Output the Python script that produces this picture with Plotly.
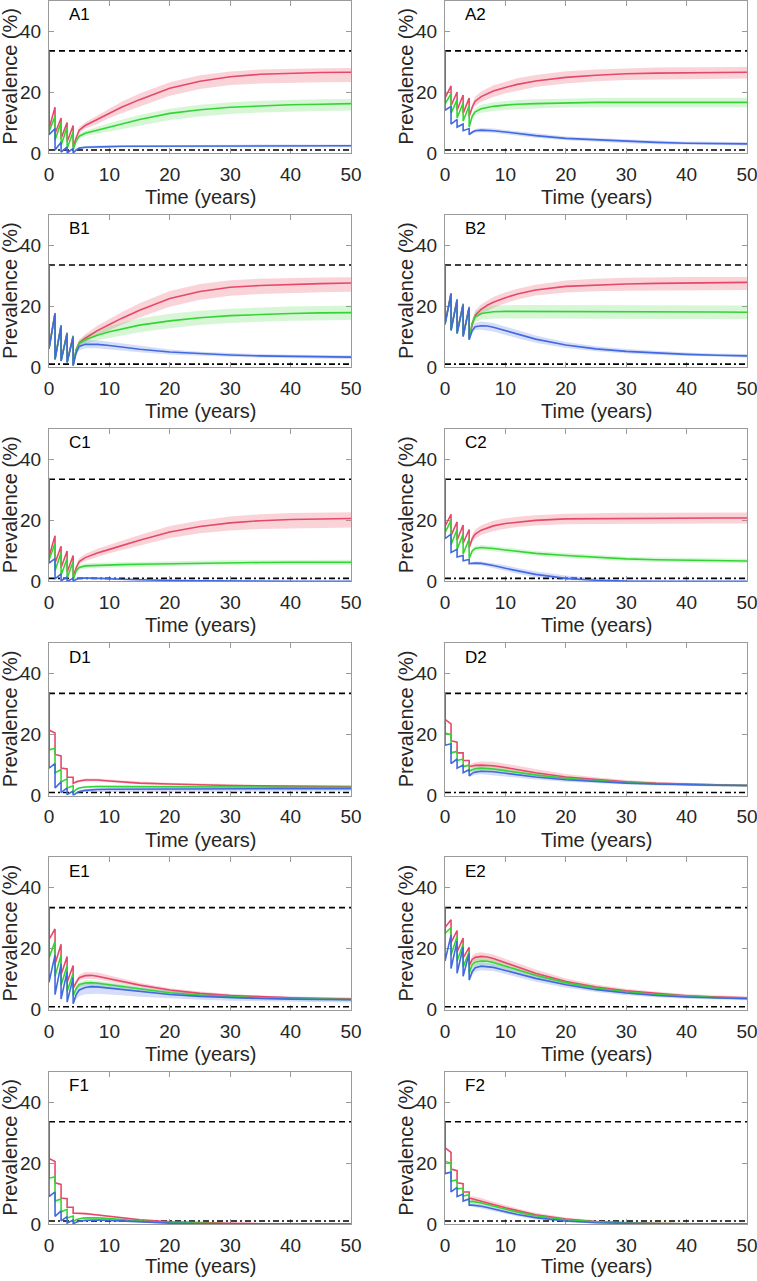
import plotly.graph_objects as go

# ---------------- data ----------------
# time grid for the median curves: repeated years = value just before / just after an MDA round
T = [0, 0, 1, 1, 2, 2, 3, 3, 4, 4, 4.5, 5, 6, 7, 8, 10, 12, 15, 20, 25, 30, 35, 40, 45, 50]
# time grid for the uncertainty bands (after the last MDA round)
TB = [4, 4.5, 5, 6, 8, 10, 12, 15, 20, 25, 30, 35, 40, 45, 50]

BASELINE = 33.5      # pre-intervention prevalence (dashed)
ELIM_THRESHOLD = 1.0  # elimination threshold (dash-dot)

PANELS = ["A1", "A2", "B1", "B2", "C1", "C2", "D1", "D2", "E1", "E2", "F1", "F2"]
X_TICKS = [0, 10, 20, 30, 40, 50]
Y_TICKS = [0, 20, 40]

A1_red = [33.5, 8, 15, 6.4, 11.5, 4.8, 10, 3.7, 9, 2, 5, 7.5, 9, 10, 11, 13, 15, 17.5, 21.2, 23.5, 25, 25.8, 26.2, 26.4, 26.5]
A1_red_lo = [2, 4.5, 6.5, 8, 9.5, 11.5, 13, 15.3, 18.8, 21, 22.3, 22.8, 23.1, 23.2, 23.3]
A1_red_hi = [2.2, 5.5, 8.5, 10, 12.3, 14.5, 16.8, 19.5, 23.2, 25.5, 26.7, 27.4, 27.7, 27.8, 27.9]
A1_green = [33.5, 7, 12, 4.3, 10, 2.5, 8.5, 1.5, 7, 1, 4, 5.5, 6.5, 7, 7.5, 8.5, 9.5, 11, 13, 14.2, 15, 15.5, 15.8, 16, 16.2]
A1_green_lo = [1, 3.5, 4.8, 5.6, 6.3, 7, 7.8, 9, 10.8, 12, 12.8, 13.3, 13.6, 13.8, 13.9]
A1_green_hi = [1.1, 4.5, 6.2, 7.4, 8.6, 9.8, 10.9, 12.5, 14.5, 15.8, 16.6, 17.1, 17.4, 17.6, 17.7]
A1_blue = [33.5, 6, 8, 1, 3.5, 0.3, 2, 0, 1.5, 0, 1, 1.6, 1.9, 2, 2.1, 2.1, 2.2, 2.2, 2.3, 2.3, 2.3, 2.4, 2.4, 2.4, 2.4]
A1_blue_lo = [0, 0.7, 1.2, 1.5, 1.7, 1.7, 1.8, 1.8, 1.9, 1.9, 1.9, 2, 2, 2, 2]
A1_blue_hi = [0.1, 1.3, 2, 2.3, 2.5, 2.5, 2.6, 2.6, 2.7, 2.7, 2.7, 2.8, 2.8, 2.8, 2.8]

A2_red = [33.5, 18, 22, 15.5, 20, 14, 19, 13, 18, 12, 15, 17, 18.5, 19.5, 20.3, 21.5, 22.5, 23.6, 24.8, 25.5, 26, 26.2, 26.3, 26.4, 26.5]
A2_red_lo = [11.8, 14, 15.5, 16.8, 18.4, 19.6, 20.5, 21.6, 22.8, 23.5, 23.9, 24.1, 24.2, 24.3, 24.4]
A2_red_hi = [12.2, 16, 18.5, 20.2, 22.2, 23.4, 24.5, 25.6, 26.8, 27.4, 27.8, 28, 28.1, 28.2, 28.2]
A2_green = [33.5, 16, 19.5, 13, 17.5, 11.5, 16.5, 10.5, 15.5, 8.5, 12, 13.5, 14.5, 15, 15.3, 15.7, 16, 16.2, 16.5, 16.6, 16.6, 16.6, 16.6, 16.6, 16.6]
A2_green_lo = [8.3, 11, 12.4, 13.2, 13.8, 14.1, 14.4, 14.6, 14.9, 15, 15, 15, 15, 15, 15]
A2_green_hi = [8.7, 13, 14.6, 15.8, 16.6, 17.1, 17.4, 17.6, 17.9, 18, 18.1, 18.1, 18.1, 18.1, 18.1]
A2_blue = [33.5, 14, 15.3, 9.5, 11, 8.5, 9.5, 7.3, 8, 6, 6.8, 7.3, 7.5, 7.5, 7.3, 6.9, 6.4, 5.7, 4.8, 4.3, 3.8, 3.5, 3.2, 3.1, 3]
A2_blue_lo = [5.8, 6.3, 6.7, 6.8, 6.6, 6.2, 5.7, 5.0, 4.2, 3.7, 3.2, 2.9, 2.7, 2.6, 2.5]
A2_blue_hi = [6.2, 7.3, 7.9, 8.2, 8.0, 7.6, 7.1, 6.4, 5.4, 4.9, 4.4, 4.1, 3.8, 3.7, 3.6]

B1_red = [33.5, 6.2, 17.8, 2.7, 13.8, 2.2, 11.3, 1.7, 10.3, 0.7, 5.8, 8, 9.5, 10.8, 12, 14, 16, 18.7, 22.5, 24.8, 26.2, 26.8, 27.2, 27.4, 27.6]
B1_red_lo = [0.7, 5, 7, 8.3, 10.4, 12.2, 13.9, 16.3, 19.8, 22.1, 23.4, 24, 24.4, 24.6, 24.7]
B1_red_hi = [0.8, 6.5, 9, 10.8, 13.6, 15.8, 18, 21, 25, 27.3, 28.5, 29, 29.3, 29.4, 29.5]
B1_green = [33.5, 6.1, 17.7, 2.6, 13.7, 2.1, 11.2, 1.6, 10.2, 0.6, 5.6, 7.8, 9, 9.8, 10.5, 11.6, 12.5, 13.8, 15.2, 16.2, 16.9, 17.3, 17.6, 17.8, 17.9]
B1_green_lo = [0.6, 4.8, 6.6, 7.6, 8.8, 9.7, 10.4, 11.5, 12.8, 13.8, 14.5, 14.9, 15.2, 15.4, 15.5]
B1_green_hi = [0.7, 6.4, 9, 10.4, 12, 13.4, 14.5, 16, 17.5, 18.5, 19.2, 19.6, 19.9, 20.1, 20.2]
B1_blue = [33.5, 6, 17.5, 2.5, 13.5, 2, 11, 1.5, 10, 0.5, 4.8, 6.8, 7.5, 7.6, 7.5, 7.1, 6.6, 5.9, 5, 4.4, 4, 3.7, 3.5, 3.4, 3.3]
B1_blue_lo = [0.4, 3.8, 5.5, 6.2, 6.2, 5.9, 5.5, 4.9, 4.2, 3.7, 3.4, 3.1, 2.9, 2.8, 2.7]
B1_blue_hi = [0.6, 5.8, 8, 8.8, 8.8, 8.3, 7.7, 6.9, 5.8, 5.1, 4.6, 4.3, 4.1, 4, 3.9]

B2_red = [33.5, 14.2, 24.3, 12.3, 22.3, 11.3, 20.8, 10.4, 19.8, 9.4, 14, 17, 19, 20.3, 21.3, 22.8, 24, 25.3, 26.5, 27, 27.3, 27.5, 27.6, 27.7, 27.8]
B2_red_lo = [9.3, 12.8, 15.5, 17.4, 19.5, 21, 22.2, 23.5, 24.5, 24.9, 25.1, 25.2, 25.3, 25.3, 25.3]
B2_red_hi = [9.5, 15.2, 18.6, 20.6, 23, 24.6, 25.7, 27, 28.4, 29, 29.3, 29.5, 29.6, 29.6, 29.6]
B2_green = [33.5, 14.1, 24.1, 12.1, 22.1, 11.1, 20.6, 10.2, 19.6, 9.2, 14.5, 16.5, 17.6, 18, 18.2, 18.3, 18.3, 18.3, 18.3, 18.2, 18.2, 18.1, 18.1, 18.1, 18]
B2_green_lo = [9.1, 13, 14.8, 15.6, 16, 16.1, 16.1, 16.1, 16, 15.9, 15.8, 15.8, 15.7, 15.7, 15.7]
B2_green_hi = [9.3, 15.8, 18.2, 19.5, 20.2, 20.4, 20.4, 20.4, 20.4, 20.3, 20.3, 20.2, 20.2, 20.2, 20.2]
B2_blue = [33.5, 14, 24, 12, 22, 11, 20.5, 10, 19.5, 9, 12, 13.3, 13.6, 13.5, 13.1, 12, 10.8, 9.2, 7.3, 6, 5.2, 4.6, 4.2, 3.9, 3.7]
B2_blue_lo = [8.8, 11, 12.2, 12.3, 11.7, 10.6, 9.5, 8.0, 6.3, 5.2, 4.5, 4.0, 3.6, 3.4, 3.2]
B2_blue_hi = [9.2, 13, 14.5, 15, 14.5, 13.4, 12.1, 10.4, 8.3, 6.9, 6, 5.3, 4.8, 4.5, 4.3]

C1_red = [33.5, 8, 15, 6, 11.5, 4.5, 10, 3, 8.5, 1.5, 4.5, 6.5, 7.8, 8.6, 9.3, 10.5, 11.8, 13.5, 16.2, 18, 19.2, 19.9, 20.3, 20.5, 20.6]
C1_red_lo = [1.4, 3.8, 5.6, 6.7, 8, 9.2, 10.3, 11.8, 14.2, 15.8, 16.7, 17.2, 17.5, 17.6, 17.7]
C1_red_hi = [1.6, 5.3, 7.6, 9, 10.7, 12, 13.3, 15.2, 18.2, 20, 21.3, 22, 22.4, 22.6, 22.7]
C1_green = [33.5, 7, 12.5, 3.5, 9.5, 2, 7.5, 1, 6.5, 0.5, 3.5, 4.6, 5.1, 5.2, 5.3, 5.4, 5.5, 5.6, 5.8, 6, 6.1, 6.2, 6.3, 6.3, 6.3]
C1_green_lo = [0.4, 2.8, 3.8, 4.3, 4.5, 4.6, 4.7, 4.8, 5, 5.2, 5.3, 5.4, 5.5, 5.5, 5.5]
C1_green_hi = [0.6, 4.2, 5.4, 5.9, 6.1, 6.2, 6.3, 6.4, 6.6, 6.8, 6.9, 7, 7.1, 7.1, 7.1]
C1_blue = [33.5, 6, 7.5, 0.8, 2.5, 0.2, 1.5, 0, 1, 0, 0.7, 1, 1.1, 1.1, 1, 0.9, 0.7, 0.5, 0.3, 0.2, 0.1, 0.1, 0.05, 0.05, 0.05]
C1_blue_lo = [0, 0.5, 0.8, 0.8, 0.7, 0.6, 0.4, 0.2, 0.1, 0, 0, 0, 0, 0, 0]
C1_blue_hi = [0, 0.9, 1.3, 1.4, 1.3, 1.2, 1, 0.8, 0.6, 0.4, 0.3, 0.2, 0.2, 0.1, 0.1]

C2_red = [33.5, 18, 22, 15, 19.5, 13.5, 18.5, 12.5, 17, 11, 14, 15.5, 16.8, 17.6, 18.2, 19, 19.5, 20, 20.5, 20.6, 20.7, 20.7, 20.8, 20.8, 20.8]
C2_red_lo = [10.8, 12.8, 14, 15.2, 16.5, 17.3, 17.8, 18.3, 18.7, 18.8, 18.9, 18.9, 19, 19, 19]
C2_red_hi = [11.2, 15.3, 17, 18.4, 19.9, 20.7, 21.2, 21.7, 22.2, 22.4, 22.5, 22.5, 22.6, 22.6, 22.6]
C2_green = [33.5, 16, 20, 12, 17, 10.5, 15.5, 9, 14, 7.5, 10, 10.8, 11.1, 11, 10.8, 10.3, 9.8, 9.2, 8.5, 7.9, 7.4, 7.1, 6.9, 6.8, 6.7]
C2_green_lo = [7.3, 9.2, 10, 10.3, 10, 9.5, 9, 8.4, 7.7, 7.1, 6.7, 6.4, 6.2, 6.1, 6]
C2_green_hi = [7.7, 10.8, 11.6, 11.9, 11.6, 11.1, 10.6, 10, 9.3, 8.7, 8.1, 7.8, 7.6, 7.5, 7.4]
C2_blue = [33.5, 14, 15.5, 9.5, 10.5, 8, 8.5, 6.8, 7.2, 5.8, 5.9, 6, 5.9, 5.6, 5.2, 4.3, 3.4, 2.3, 1, 0.4, 0.1, 0.05, 0, 0, 0]
C2_blue_lo = [5.6, 5.5, 5.5, 5.3, 4.5, 3.4, 2.5, 1.4, 0.4, 0.1, 0, 0, 0, 0, 0]
C2_blue_hi = [6, 6.3, 6.5, 6.5, 6.0, 5.3, 4.4, 3.3, 1.9, 1, 0.5, 0.2, 0.1, 0, 0]

D1_red = [33.5, 21.5, 20.5, 13.5, 13, 9, 8.7, 6, 6, 4, 4.5, 4.8, 5.1, 5.2, 5.1, 4.8, 4.5, 4.1, 3.8, 3.5, 3.3, 3.2, 3.1, 3.0, 3.0]
D1_red_lo = [3.8, 4.2, 4.4, 4.6, 4.6, 4.3, 4.1, 3.7, 3.4, 3.2, 3, 2.9, 2.8, 2.8, 2.7]
D1_red_hi = [4.2, 4.8, 5.2, 5.6, 5.6, 5.3, 5, 4.6, 4.2, 3.9, 3.6, 3.5, 3.4, 3.3, 3.3]
D1_green = [33.5, 15, 15.5, 7.5, 8.5, 4.5, 5.5, 2.5, 3.2, 1, 2, 2.5, 2.8, 3, 3, 3, 3, 3, 2.9, 2.9, 2.8, 2.8, 2.7, 2.7, 2.7]
D1_green_lo = [0.9, 1.7, 2.2, 2.5, 2.6, 2.6, 2.6, 2.6, 2.5, 2.5, 2.4, 2.4, 2.4, 2.4, 2.4]
D1_green_hi = [1.1, 2.3, 2.8, 3.1, 3.4, 3.4, 3.4, 3.4, 3.3, 3.3, 3.2, 3.2, 3.1, 3.1, 3.1]
D1_blue = [33.5, 9, 10.5, 2.5, 4.5, 1, 2.5, 0.3, 1.5, 0, 0.8, 1.3, 1.7, 1.9, 2, 2.1, 2.1, 2.2, 2.2, 2.2, 2.3, 2.3, 2.3, 2.3, 2.3]
D1_blue_lo = [0, 0.5, 0.9, 1.2, 1.4, 1.4, 1.4, 1.4, 1.4, 1.4, 1.4, 1.4, 1.4, 1.4, 1.4]
D1_blue_hi = [0.1, 1.1, 1.7, 2.2, 2.6, 2.8, 2.8, 2.9, 2.9, 2.9, 2.9, 2.9, 2.9, 2.9, 2.9]

D2_red = [33.5, 25, 23.5, 18, 17.5, 14, 14, 11.5, 11.5, 9.5, 9.7, 9.9, 10, 10, 9.8, 9.2, 8.5, 7.5, 6.1, 5.2, 4.5, 4, 3.7, 3.5, 3.3]
D2_red_lo = [9, 8.9, 8.9, 8.9, 8.6, 8.0, 7.4, 6.5, 5.3, 4.6, 4.0, 3.6, 3.3, 3.1, 3]
D2_red_hi = [10, 10.6, 10.9, 11.2, 11.1, 10.5, 9.8, 8.7, 7.1, 6, 5.1, 4.5, 4.1, 3.9, 3.7]
D2_green = [33.5, 20.5, 20, 14, 14.5, 11.5, 12, 9.5, 10, 8, 8.5, 8.8, 9, 8.9, 8.7, 8.2, 7.6, 6.8, 5.7, 4.9, 4.3, 3.9, 3.6, 3.4, 3.3]
D2_green_lo = [7.6, 7.8, 8, 8.1, 7.9, 7.4, 6.9, 6.1, 5.1, 4.4, 3.9, 3.5, 3.3, 3.1, 3]
D2_green_hi = [8.4, 9.2, 9.6, 9.9, 9.7, 9.2, 8.5, 7.6, 6.4, 5.5, 4.8, 4.3, 4, 3.8, 3.6]
D2_blue = [33.5, 16.5, 17, 10.5, 12, 9, 10, 7.5, 8.5, 6.5, 7.3, 7.7, 8, 8, 7.8, 7.3, 6.8, 6.1, 5.2, 4.6, 4.1, 3.8, 3.5, 3.4, 3.3]
D2_blue_lo = [6.1, 6.5, 6.8, 7.0, 6.8, 6.4, 5.9, 5.3, 4.5, 4, 3.6, 3.3, 3.1, 3, 2.9]
D2_blue_hi = [6.9, 8.1, 8.6, 9.0, 8.8, 8.2, 7.7, 6.9, 5.9, 5.2, 4.6, 4.3, 4, 3.8, 3.7]

E1_red = [33.5, 23, 26.5, 15, 21.5, 11.5, 17.5, 9, 14.5, 7, 9, 10.5, 11.2, 11.3, 11, 10.2, 9.3, 8.1, 6.5, 5.4, 4.7, 4.2, 3.9, 3.7, 3.5]
E1_red_lo = [6.6, 8.3, 9.6, 10.2, 10, 9.3, 8.5, 7.4, 5.9, 4.9, 4.3, 3.8, 3.6, 3.4, 3.2]
E1_red_hi = [7.4, 9.8, 11.5, 12.4, 12.2, 11.2, 10.2, 8.9, 7.1, 6, 5.2, 4.6, 4.3, 4.1, 3.9]
E1_green = [33.5, 17, 22.5, 11, 18, 8, 14.5, 6, 12, 4.5, 7, 8.3, 8.8, 8.9, 8.7, 8.2, 7.6, 6.8, 5.6, 4.8, 4.3, 3.9, 3.7, 3.5, 3.4]
E1_green_lo = [4.1, 6.2, 7.4, 7.9, 7.8, 7.3, 6.7, 6, 4.9, 4.2, 3.7, 3.4, 3.2, 3.1, 3]
E1_green_hi = [4.9, 7.8, 9.2, 9.8, 9.6, 9.1, 8.5, 7.6, 6.3, 5.4, 4.9, 4.4, 4.2, 4, 3.8]
E1_blue = [33.5, 9, 18, 5, 15, 3.5, 12.5, 2.5, 10.5, 2, 5, 6.5, 7.3, 7.6, 7.5, 7.1, 6.6, 5.9, 5, 4.4, 4, 3.7, 3.5, 3.4, 3.3]
E1_blue_lo = [1.6, 3.5, 4.5, 5.1, 5.3, 5.1, 4.8, 4.3, 3.7, 3.3, 3, 2.8, 2.6, 2.5, 2.4]
E1_blue_hi = [2.4, 6.3, 8.1, 9, 9.1, 8.7, 8.1, 7.3, 6.2, 5.5, 5, 4.6, 4.4, 4.2, 4.1]

E2_red = [33.5, 27, 29.5, 22, 26, 19, 23.5, 17, 20.5, 14.5, 16.5, 17.2, 17.5, 17.3, 16.8, 15.4, 14, 12, 9.3, 7.5, 6.2, 5.3, 4.6, 4.2, 3.9]
E2_red_lo = [13.8, 15.3, 15.9, 16.2, 15.6, 14.2, 12.8, 10.9, 8.4, 6.7, 5.5, 4.7, 4.1, 3.7, 3.5]
E2_red_hi = [15.2, 17.7, 18.5, 18.9, 18.1, 16.7, 15.3, 13.2, 10.3, 8.3, 6.9, 5.9, 5.2, 4.7, 4.4]
E2_green = [33.5, 25, 27, 18, 24, 16, 21.5, 14, 19, 12, 14.8, 15.6, 16, 15.9, 15.5, 14.4, 13.1, 11.3, 8.9, 7.1, 5.9, 5, 4.4, 4, 3.8]
E2_green_lo = [11.3, 13.7, 14.4, 14.8, 14.4, 13.3, 12.1, 10.4, 8.1, 6.4, 5.3, 4.5, 3.9, 3.6, 3.4]
E2_green_hi = [12.7, 15.9, 16.8, 17.2, 16.6, 15.5, 14.1, 12.2, 9.7, 7.8, 6.5, 5.5, 4.9, 4.4, 4.2]
E2_blue = [33.5, 16, 24.5, 13.5, 22.5, 12, 20.5, 11, 18.5, 9.8, 12.5, 13.8, 14.3, 14.2, 13.9, 12.9, 11.8, 10.3, 8.2, 6.6, 5.5, 4.7, 4.2, 3.8, 3.6]
E2_blue_lo = [9.1, 11.3, 12.5, 13, 12.7, 11.7, 10.6, 9.2, 7.2, 5.8, 4.8, 4.1, 3.6, 3.3, 3.1]
E2_blue_hi = [10.5, 13.7, 15.1, 15.6, 15.1, 14.1, 13, 11.4, 9.2, 7.4, 6.2, 5.3, 4.8, 4.4, 4.1]

F1_red = [33.5, 21.5, 20.5, 13.5, 13, 8.5, 8.3, 5.5, 5.5, 3.5, 3.5, 3.5, 3.4, 3.2, 3, 2.6, 2.1, 1.4, 0.7, 0.4, 0.2, 0.1, 0.05, 0, 0]
F1_red_lo = [3.3, 3.2, 3.2, 3.1, 2.7, 2.3, 1.8, 1.1, 0.5, 0.2, 0.1, 0, 0, 0, 0]
F1_red_hi = [3.7, 3.8, 3.8, 3.7, 3.3, 2.9, 2.4, 1.7, 1, 0.6, 0.3, 0.2, 0.1, 0.05, 0]
F1_green = [33.5, 15, 15.5, 7.5, 8.2, 4, 4.8, 2, 2.6, 0.8, 1.4, 1.7, 2, 2.1, 2, 1.8, 1.5, 1, 0.5, 0.2, 0.1, 0.05, 0, 0, 0]
F1_green_lo = [0.7, 1.2, 1.4, 1.7, 1.7, 1.5, 1.2, 0.8, 0.3, 0.1, 0, 0, 0, 0, 0]
F1_green_hi = [0.9, 1.6, 2, 2.3, 2.3, 2.1, 1.8, 1.3, 0.7, 0.4, 0.2, 0.1, 0, 0, 0]
F1_blue = [33.5, 9, 10.5, 2.5, 4.3, 1, 2.4, 0.3, 1.3, 0, 0.6, 0.9, 1.2, 1.3, 1.3, 1.2, 1, 0.7, 0.3, 0.1, 0.05, 0, 0, 0, 0]
F1_blue_lo = [0, 0.4, 0.7, 0.9, 1, 0.9, 0.7, 0.5, 0.1, 0, 0, 0, 0, 0, 0]
F1_blue_hi = [0.1, 0.8, 1.1, 1.5, 1.6, 1.5, 1.3, 0.9, 0.5, 0.2, 0.1, 0, 0, 0, 0]

F2_red = [33.5, 25, 23.5, 18, 17.5, 13.5, 13.2, 10.5, 10.5, 8.5, 8.3, 8, 7.5, 7, 6.4, 5.3, 4.3, 3, 1.6, 0.8, 0.4, 0.2, 0.1, 0.05, 0]
F2_red_lo = [8, 7.5, 7.2, 6.6, 5.6, 4.5, 3.6, 2.4, 1.2, 0.5, 0.2, 0.1, 0, 0, 0]
F2_red_hi = [9, 9.1, 8.9, 8.5, 7.3, 6.2, 5.1, 3.7, 2.1, 1.2, 0.7, 0.4, 0.2, 0.1, 0.05]
F2_green = [33.5, 20.5, 20, 14, 14.5, 11.5, 11.7, 9.2, 9.6, 7.3, 7.4, 7.3, 6.9, 6.4, 5.9, 4.9, 3.9, 2.7, 1.4, 0.7, 0.3, 0.15, 0.05, 0, 0]
F2_green_lo = [6.9, 6.8, 6.7, 6.2, 5.3, 4.3, 3.4, 2.3, 1.1, 0.5, 0.2, 0.1, 0, 0, 0]
F2_green_hi = [7.7, 8, 7.9, 7.6, 6.5, 5.5, 4.5, 3.2, 1.8, 1, 0.5, 0.3, 0.1, 0, 0]
F2_blue = [33.5, 16.5, 17, 10.5, 12, 9, 9.8, 7.5, 8.2, 6.2, 6.2, 6.1, 5.8, 5.4, 4.9, 4, 3.1, 2.1, 1, 0.4, 0.15, 0.05, 0, 0, 0]
F2_blue_lo = [5.8, 5.7, 5.6, 5.2, 4.3, 3.4, 2.5, 1.5, 0.6, 0.2, 0, 0, 0, 0, 0]
F2_blue_hi = [6.6, 6.8, 6.7, 6.4, 5.5, 4.6, 3.7, 2.7, 1.4, 0.7, 0.3, 0.1, 0, 0, 0]

# ---------------- styling ----------------
W, H = 757, 1281
LINE_COLORS = {"red": "#E5486A", "green": "#35D435", "blue": "#4169E1"}
BAND_COLORS = {"red": "rgba(240,110,130,0.30)", "green": "rgba(70,215,70,0.22)",
               "blue": "rgba(70,100,225,0.22)"}
FRAME = "#9a9a9a"
TXT = "#262626"
FONT = "Liberation Sans, Arial, sans-serif"

X_LEFT = [(49, 351), (445, 747)]
ROW_TOP0, ROW_STEP, PLOT_H = 0.5, 214.2, 152.5

g = globals()
fig = go.Figure()
layout = dict(width=W, height=H, margin=dict(l=0, r=0, t=0, b=0, autoexpand=False),
              paper_bgcolor="white", plot_bgcolor="white", showlegend=False)
annotations = []

for i, name in enumerate(PANELS):
    k = i + 1
    row, col = divmod(i, 2)
    x0, x1 = X_LEFT[col]
    top = ROW_TOP0 + ROW_STEP * row
    bot = top + PLOT_H
    xd = [x0 / W, x1 / W]
    yd = [1 - bot / H, 1 - top / H]
    xa, ya = f"x{k}", f"y{k}"
    sfx = "" if k == 1 else str(k)

    for c in ["red", "green", "blue"]:
        lo = g[f"{name}_{c}_lo"]
        hi = g[f"{name}_{c}_hi"]
        assert len(lo) == len(TB) and len(hi) == len(TB), (name, c)
        fig.add_trace(go.Scatter(x=TB + TB[::-1], y=hi + lo[::-1], fill="toself",
                                 fillcolor=BAND_COLORS[c], line=dict(width=0),
                                 mode="lines", hoverinfo="skip", xaxis=xa, yaxis=ya))

    fig.add_trace(go.Scatter(x=[0, 50], y=[BASELINE, BASELINE], mode="lines",
                             line=dict(color="black", width=1.6, dash="6px,4px"),
                             xaxis=xa, yaxis=ya))
    fig.add_trace(go.Scatter(x=[0, 50], y=[ELIM_THRESHOLD, ELIM_THRESHOLD], mode="lines",
                             line=dict(color="black", width=1.6, dash="6px,3px,2px,3px"),
                             xaxis=xa, yaxis=ya))

    for c in ["red", "green", "blue"]:
        y = g[f"{name}_{c}"]
        assert len(y) == len(T), (name, c)
        fig.add_trace(go.Scatter(x=T, y=y, mode="lines",
                                 line=dict(color=LINE_COLORS[c], width=1.6),
                                 xaxis=xa, yaxis=ya))

    layout["xaxis" + sfx] = dict(domain=xd, anchor=ya, range=[0, 50], tickvals=X_TICKS,
                                 showgrid=False, zeroline=False, showline=True, linecolor=FRAME,
                                 linewidth=1, mirror="ticks", ticks="inside", ticklen=5,
                                 tickcolor=FRAME, layer="below traces",
                                 ticklabeloverflow="allow",
                                 tickfont=dict(family=FONT, size=19, color=TXT),
                                 ticklabelstandoff=4)
    layout["yaxis" + sfx] = dict(domain=yd, anchor=xa, range=[0, 50], tickvals=Y_TICKS,
                                 showgrid=False, zeroline=False, showline=True, linecolor=FRAME,
                                 linewidth=1, mirror="ticks", ticks="inside", ticklen=5,
                                 tickcolor=FRAME, layer="below traces",
                                 ticklabeloverflow="allow",
                                 tickfont=dict(family=FONT, size=19, color=TXT),
                                 ticklabelstandoff=3)

    title_shift = -42 if row == 5 else -44
    annotations.append(dict(text=name, xref=xa, yref=ya, x=3.0, y=45.4, xanchor="left",
                            yanchor="middle", showarrow=False,
                            font=dict(family=FONT, size=17, color="black")))
    annotations.append(dict(text="Time (years)", xref="paper", yref="paper",
                            x=(xd[0] + xd[1]) / 2, y=yd[0], yshift=title_shift,
                            xanchor="center", yanchor="middle", showarrow=False,
                            font=dict(family=FONT, size=20, color=TXT)))
    annotations.append(dict(text="Prevalence (%)", xref="paper", yref="paper",
                            x=xd[0], xshift=-39, y=(yd[0] + yd[1]) / 2, xanchor="center",
                            yanchor="middle", textangle=-90, showarrow=False,
                            font=dict(family=FONT, size=20, color=TXT)))

layout["annotations"] = annotations
fig.update_layout(**layout)
fig.write_html("out.html", config={"displayModeBar": False},
               post_script="document.body.style.margin='0';document.body.style.overflow='hidden';")
